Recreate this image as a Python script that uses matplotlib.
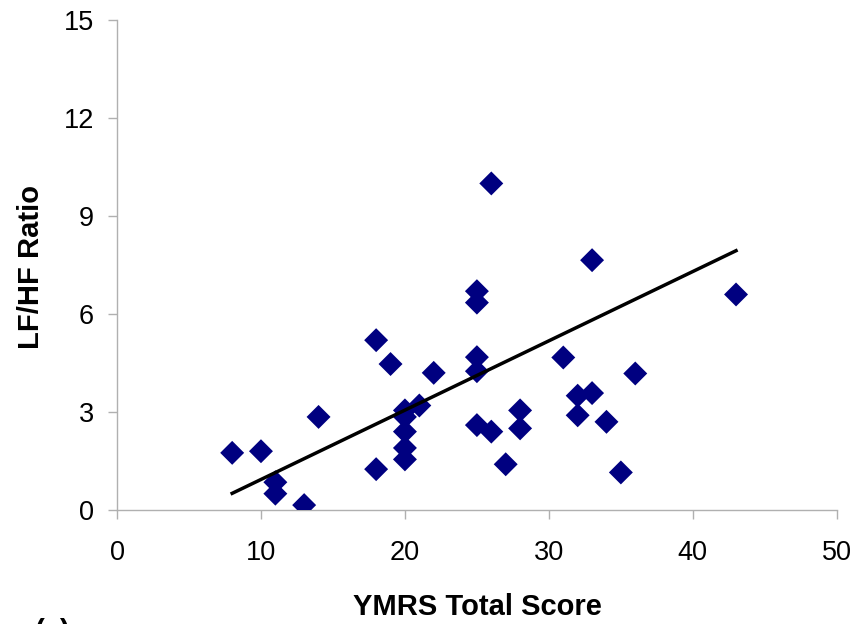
import matplotlib
matplotlib.use("Agg")
import matplotlib.pyplot as plt

plt.rcParams["font.family"] = ["Liberation Sans", "DejaVu Sans"]

# YMRS total score vs LF/HF ratio
ymrs = [8, 10, 11, 11, 13, 14, 18, 18, 19, 20, 20, 20, 20, 20, 21, 22,
        25, 25, 25, 25, 25, 26, 26, 27, 28, 28, 31, 32, 32, 33, 33, 34,
        35, 36, 43]
lfhf = [1.75, 1.8, 0.85, 0.5, 0.15, 2.85, 5.2, 1.25, 4.47, 3.05, 2.85, 2.4,
        1.9, 1.55, 3.2, 4.2,
        6.7, 6.35, 4.68, 4.25, 2.6, 10.0, 2.4, 1.4, 3.05, 2.5, 4.67, 3.5,
        2.9, 7.65, 3.58, 2.7, 1.15, 4.18, 6.6]

# linear trendline as drawn in the figure (end points)
trend_x = [8, 43]
trend_y = [0.51, 7.94]

x_ticks = [0, 10, 20, 30, 40, 50]
y_ticks = [0, 3, 6, 9, 12, 15]

fig = plt.figure(figsize=(8.61, 6.24), dpi=100)
ax = fig.add_axes([0.1359, 0.1827, 0.836, 0.785])

ax.scatter(ymrs, lfhf, marker="D", s=12.2 ** 2, c="#000080",
           edgecolors="none", zorder=3)
ax.plot(trend_x, trend_y, color="black", linewidth=2.5, zorder=4)

ax.set_xlim(0, 50)
ax.set_ylim(0, 15)
ax.set_xticks(x_ticks)
ax.set_yticks(y_ticks)

for side in ("top", "right"):
    ax.spines[side].set_visible(False)
for side in ("left", "bottom"):
    ax.spines[side].set_color("#b0b0b0")
    ax.spines[side].set_linewidth(1.0)
ax.tick_params(direction="out", length=6.5, width=1.0, color="#b0b0b0",
               labelsize=19.5)
ax.tick_params(axis="x", pad=15)
ax.tick_params(axis="y", pad=10)

fig.text(477 / 861, 1 - 615 / 624, "YMRS Total Score", fontsize=21,
         fontweight="bold", ha="center", va="baseline")
fig.text(31 / 861, 1 - 267 / 624, "LF/HF Ratio", fontsize=21,
         fontweight="bold", ha="center", va="center", rotation=90)

# panel letter, cut off by the bottom edge as in the original
fig.text(35 / 861, 1 - 618 / 624, "(a)", fontsize=21, fontweight="bold",
         ha="left", va="top")

fig.savefig("out.png", dpi=100)
